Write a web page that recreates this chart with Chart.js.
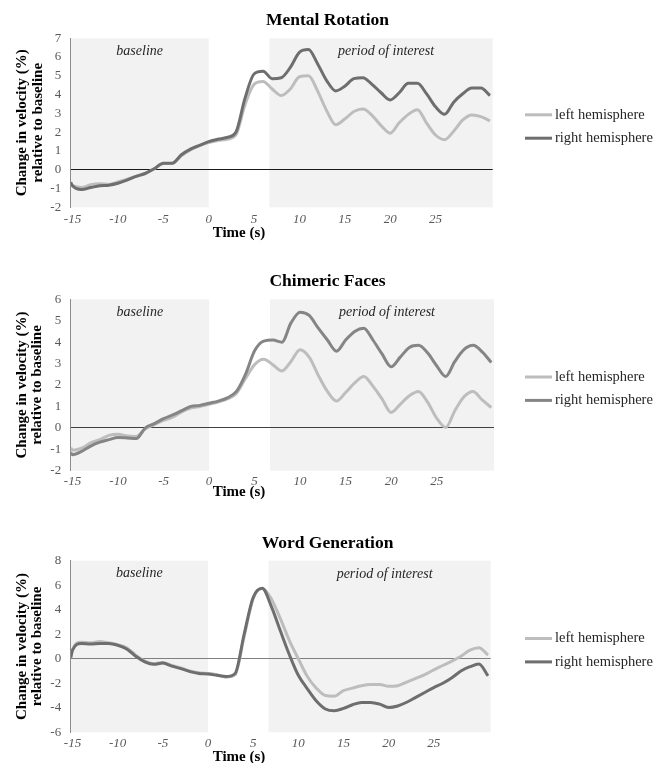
<!DOCTYPE html>
<html>
<head>
<meta charset="utf-8">
<script src="https://cdn.jsdelivr.net/npm/chart.js@4.4.1/dist/chart.umd.min.js"></script>
<style>
html,body{margin:0;padding:0;background:#fff;width:655px;height:763px;overflow:hidden}
.box{position:absolute;left:0;width:655px}
canvas{display:block}
</style>
</head>
<body>
<div class="box" style="top:0px"><canvas id="c1" width="655" height="250"></canvas></div>
<div class="box" style="top:255px"><canvas id="c2" width="655" height="250"></canvas></div>
<div class="box" style="top:515px"><canvas id="c3" width="655" height="248"></canvas></div>
<script>
// ---------- data ----------
const time = [-15.2,-15,-14,-13,-12,-11,-10,-9,-8,-7,-6,-5,-4,-3,-2,-1,0,1,2,3,4,5,6,7,8,9,10,11,12,13,14,15,16,17,18,19,20,21,22,23,24,25,26,27,28,29,30,31];
const xTicks = [-15,-10,-5,0,5,10,15,20,25];
const seriesNames = ['left hemisphere','right hemisphere'];
const chartTitles = ['Mental Rotation','Chimeric Faces','Word Generation'];
const regionNames = ['baseline','period of interest'];
const xMin = -15.2, xMax = 31.3;
const baselineEnd = 0;
const interestStart = 6.7;

const mrLeft  = [-0.8,-0.85,-0.95,-0.8,-0.75,-0.78,-0.65,-0.5,-0.35,-0.2,0.05,0.33,0.35,0.75,1.05,1.28,1.45,1.55,1.62,1.85,3.45,4.55,4.7,4.3,3.95,4.3,4.95,5.0,4.2,3.15,2.4,2.7,3.1,3.23,2.9,2.35,1.95,2.5,2.95,3.2,2.5,1.85,1.6,2.05,2.65,2.92,2.83,2.6];
const mrRight = [-0.67,-0.85,-1.05,-0.95,-0.85,-0.82,-0.72,-0.55,-0.35,-0.2,0.05,0.35,0.35,0.8,1.1,1.3,1.5,1.62,1.72,2.0,3.8,5.1,5.25,4.85,4.9,5.45,6.25,6.4,5.65,4.75,4.2,4.45,4.85,4.9,4.55,4.1,3.72,4.1,4.6,4.6,4.05,3.35,2.95,3.6,4.05,4.35,4.35,3.95];

const cfLeft  = [-0.93,-1.05,-0.95,-0.7,-0.55,-0.35,-0.3,-0.38,-0.4,-0.05,0.15,0.35,0.5,0.75,0.92,1.0,1.1,1.2,1.35,1.6,2.3,2.95,3.2,2.95,2.65,3.1,3.65,3.3,2.45,1.7,1.25,1.65,2.1,2.4,1.95,1.35,0.72,1.1,1.5,1.7,1.2,0.45,0.02,0.8,1.45,1.7,1.3,0.95];
const cfRight = [-1.17,-1.25,-1.1,-0.85,-0.67,-0.55,-0.45,-0.47,-0.5,0.0,0.2,0.43,0.6,0.8,1.0,1.05,1.15,1.25,1.4,1.7,2.5,3.6,4.05,4.1,4.0,4.9,5.4,5.25,4.65,4.1,3.58,4.1,4.5,4.65,4.1,3.45,2.85,3.3,3.75,3.85,3.5,2.9,2.4,3.1,3.65,3.85,3.55,3.05];

const wgLeft  = [0.1,0.75,1.35,1.3,1.4,1.3,1.15,0.9,0.3,-0.2,-0.4,-0.3,-0.55,-0.75,-1.0,-1.15,-1.2,-1.3,-1.5,-1.3,1.8,4.9,5.75,4.9,3.3,1.5,0.0,-1.45,-2.4,-3.0,-3.05,-2.6,-2.4,-2.2,-2.1,-2.1,-2.25,-2.2,-1.9,-1.6,-1.3,-0.9,-0.55,-0.2,0.2,0.7,0.9,0.3];
const wgRight = [0.1,0.7,1.25,1.2,1.25,1.25,1.1,0.8,0.2,-0.25,-0.45,-0.35,-0.6,-0.8,-1.05,-1.2,-1.25,-1.35,-1.45,-1.2,2.0,5.0,5.75,4.3,2.3,0.35,-1.35,-2.45,-3.45,-4.1,-4.24,-4.05,-3.75,-3.56,-3.56,-3.7,-3.97,-3.85,-3.55,-3.15,-2.75,-2.35,-2.0,-1.55,-1.0,-0.65,-0.43,-1.4];

// ---------- drawing ----------
const SERIF = '"Liberation Serif", "Times New Roman", serif';
Chart.defaults.font.family = SERIF;
Chart.defaults.animation = false;

function decorPlugin(cfg) {
  return {
    id: 'decor',
    beforeDraw(chart) {
      const {ctx, chartArea: a, scales: {x}} = chart;
      ctx.save();
      ctx.fillStyle = '#f2f2f2';
      const b0 = x.getPixelForValue(xMin), b1 = x.getPixelForValue(baselineEnd);
      ctx.fillRect(b0, a.top, b1 - b0, a.bottom - a.top);
      const p0 = x.getPixelForValue(interestStart);
      ctx.fillRect(p0, a.top, a.right - p0, a.bottom - a.top);
      ctx.restore();
    },
    beforeDatasetsDraw(chart) {
      const {ctx, chartArea: a, scales: {x}} = chart;
      ctx.save();
      ctx.fillStyle = '#262626';
      ctx.font = 'italic 14px ' + SERIF;
      ctx.textAlign = 'center';
      ctx.textBaseline = 'middle';
      const b0 = x.getPixelForValue(xMin), b1 = x.getPixelForValue(baselineEnd);
      ctx.fillText(regionNames[0], (b0 + b1) / 2, a.top + 13);
      const p0 = x.getPixelForValue(interestStart);
      ctx.fillText(regionNames[1], (p0 + a.right) / 2 + 5, a.top + 13.5);
      ctx.restore();
    },
    afterDraw(chart) {
      const {ctx, chartArea: a} = chart;
      ctx.save();
      ctx.fillStyle = '#000';
      ctx.textAlign = 'center';
      ctx.textBaseline = 'middle';
      ctx.font = 'bold 17.5px ' + SERIF;
      ctx.fillText(cfg.title, 327.5, a.top - 17.5);
      ctx.font = 'bold 15px ' + SERIF;
      const my = (a.top + a.bottom) / 2;
      ctx.save();
      ctx.translate(cfg.yt1, my);
      ctx.rotate(-Math.PI / 2);
      ctx.fillText('Change in velocity (%)', 0, 0);
      ctx.restore();
      ctx.save();
      ctx.translate(cfg.yt2, my);
      ctx.rotate(-Math.PI / 2);
      ctx.fillText('relative to baseline', 0, 0);
      ctx.restore();
      ctx.fillText('Time (s)', 239, a.bottom + cfg.xtOff);
      const ly = my + 3.7;
      const items = [[seriesNames[0], cfg.leftColor, ly - 11.7], [seriesNames[1], cfg.rightColor, ly + 11.7]];
      ctx.font = '14.5px ' + SERIF;
      ctx.textAlign = 'left';
      items.forEach(([txt, col, y]) => {
        ctx.strokeStyle = col;
        ctx.lineWidth = 3;
        ctx.beginPath();
        ctx.moveTo(525, y);
        ctx.lineTo(552, y);
        ctx.stroke();
        ctx.fillStyle = '#262626';
        ctx.fillText(txt, 555, y);
      });
      ctx.restore();
    }
  };
}

function makeChart(id, cfg) {
  const mk = (vals) => time.map((t, i) => ({x: t, y: vals[i]}));
  return new Chart(document.getElementById(id), {
    type: 'line',
    data: {
      datasets: [
        {label: seriesNames[0], data: mk(cfg.leftVals), borderColor: cfg.leftColor, borderWidth: 3,
         pointRadius: 0, cubicInterpolationMode: 'monotone', order: 1},
        {label: seriesNames[1], data: mk(cfg.rightVals), borderColor: cfg.rightColor, borderWidth: 3,
         pointRadius: 0, cubicInterpolationMode: 'monotone', order: 0}
      ]
    },
    options: {
      responsive: false,
      animation: false,
      events: [],
      layout: {padding: {top: cfg.areaTop, right: 655 - cfg.areaRight, bottom: cfg.h - cfg.areaBottom - 30, left: 0}},
      plugins: {legend: {display: false}, tooltip: {enabled: false}, title: {display: false}},
      scales: {
        x: {
          type: 'linear', min: xMin, max: xMax,
          afterFit(s) { s.height = 30; },
          afterBuildTicks(s) { s.ticks = xTicks.map(v => ({value: v})); },
          grid: {display: false},
          border: {display: false},
          ticks: {autoSkip: false, maxRotation: 0, padding: cfg.xPad, color: '#595959',
                  font: {size: 13, style: 'italic'}}
        },
        y: {
          min: cfg.yMin, max: cfg.yMax,
          afterFit(s) { s.width = 70.7; },
          ticks: {stepSize: cfg.yStep, padding: 9.5, color: '#595959', font: {size: 13}},
          grid: {drawTicks: false, lineWidth: 1,
                 color: c => (c.tick && c.tick.value === 0) ? cfg.zeroColor : 'rgba(0,0,0,0)'},
          border: {display: true, color: '#8c8c8c', width: 1}
        }
      }
    },
    plugins: [decorPlugin(cfg)]
  });
}

makeChart('c1', {title: chartTitles[0], leftVals: mrLeft, rightVals: mrRight, leftColor: '#bdbdbd', rightColor: '#6e6e6e',
  areaTop: 38.3, areaBottom: 207.3, areaRight: 492.7, h: 250, yMin: -2, yMax: 7, yStep: 1, xPad: -3.5, xtOff: 25.4,
  zeroColor: '#1a1a1a', yt1: 21.7, yt2: 38.3});
makeChart('c2', {title: chartTitles[1], leftVals: cfLeft, rightVals: cfRight, leftColor: '#bdbdbd', rightColor: '#858585',
  areaTop: 44.3, areaBottom: 215.7, areaRight: 494, h: 250, yMin: -2, yMax: 6, yStep: 1, xPad: -5.2, xtOff: 21.3,
  zeroColor: '#404040', yt1: 21.7, yt2: 37});
makeChart('c3', {title: chartTitles[2], leftVals: wgLeft, rightVals: wgRight, leftColor: '#bdbdbd', rightColor: '#6e6e6e',
  areaTop: 45.7, areaBottom: 217.3, areaRight: 490.7, h: 248, yMin: -6, yMax: 8, yStep: 2, xPad: -4.1, xtOff: 24.4,
  zeroColor: '#7f7f7f', yt1: 21.7, yt2: 37.3});
</script>
</body>
</html>
